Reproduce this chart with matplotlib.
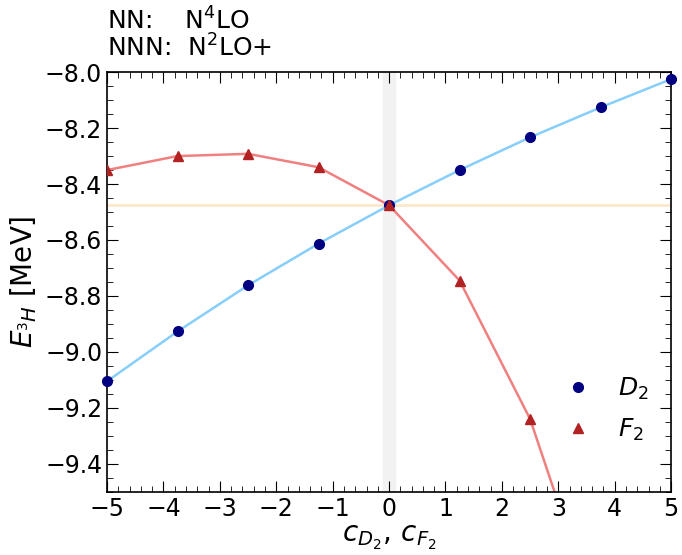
import numpy as np
import matplotlib.pyplot as plt
from matplotlib.ticker import MultipleLocator

# couplings (same grid for both)
c_vals = [-5.0, -3.75, -2.5, -1.25, 0.0, 1.25, 2.5, 3.75, 5.0]
e_D2 = [-9.105, -8.927, -8.762, -8.613, -8.476, -8.350, -8.233, -8.126, -8.025]
e_F2 = [-8.350, -8.300, -8.292, -8.340, -8.476, -8.745, -9.240, -9.990, -11.00]
e_ref = -8.476

fig = plt.figure(figsize=(6.82, 5.55), dpi=100)
ax = fig.add_axes([0.157, 0.114, 0.827, 0.756])

ax.axvspan(-0.1, 0.1, color="#f2f2f2", zorder=0)
ax.axhline(e_ref, color="#fde8cc", lw=2, zorder=1)

ax.plot(c_vals, e_D2, color="#87cefa", lw=1.8, zorder=2)
ax.plot(c_vals, e_F2, color="#f08080", lw=1.8, zorder=2)
ax.plot(c_vals, e_D2, "o", color="navy", ms=7, ls="none", label="$D_2$", zorder=3, clip_on=False)
ax.plot(c_vals, e_F2, "^", color="firebrick", ms=7, ls="none", label="$F_2$", zorder=3)

ax.set_xlim(-5, 5)
ax.set_ylim(-9.5, -8.0)
ax.xaxis.set_major_locator(MultipleLocator(1))
ax.xaxis.set_minor_locator(MultipleLocator(0.2))
ax.yaxis.set_major_locator(MultipleLocator(0.2))
ax.yaxis.set_minor_locator(MultipleLocator(0.05))
ax.tick_params(which="both", direction="in", top=True, right=True)
ax.tick_params(which="major", length=8, labelsize=17)
ax.tick_params(which="minor", length=4)
for s in ax.spines.values():
    s.set_linewidth(1.2)

ax.set_xlabel("$c_{D_2},\\, c_{F_2}$", fontsize=20, labelpad=2)
ax.set_ylabel("$E_{^3H}$ [MeV]", fontsize=20, labelpad=4)

ax.legend(loc="lower right", frameon=False, fontsize=18, handletextpad=0.8,
          bbox_to_anchor=(1.0, 0.062), labelspacing=0.62, handlelength=1.6)

fig.text(0.157, 0.946, "NN:    N$^4$LO", fontsize=18, va="baseline")
fig.text(0.157, 0.898, "NNN:  N$^2$LO+", fontsize=18, va="baseline")

fig.savefig("out.png", dpi=100)
